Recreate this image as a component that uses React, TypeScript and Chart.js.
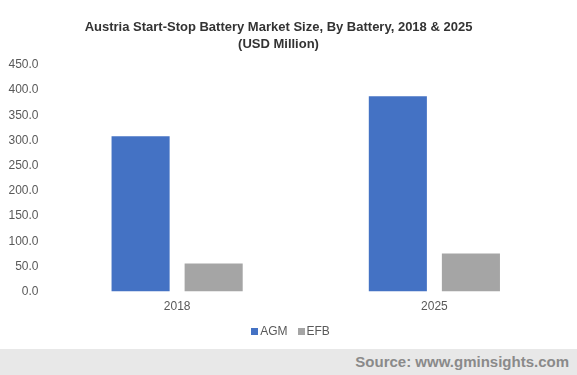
import React, { useEffect, useRef } from "react";
import { Chart, registerables } from "chart.js";

Chart.register(...registerables);

const categories = ["2018", "2025"];
const agmValues = [308.5, 388.0];
const efbValues = [56.0, 75.5];
const seriesNames = ["AGM", "EFB"];
const seriesColors = ["#4472c4", "#a5a5a5"];
const titleLines = ["Austria Start-Stop Battery Market Size, By Battery, 2018 & 2025", "(USD Million)"];
const sourceText = "Source: www.gminsights.com";

const FONT = "Arial, 'Liberation Sans', sans-serif";

export default function App() {
  const ref = useRef<HTMLCanvasElement | null>(null);

  useEffect(() => {
    document.body.style.margin = "0";
    const ctx = ref.current;
    if (!ctx) return;
    const chart = new Chart(ctx, {
      type: "bar",
      data: {
        labels: categories,
        datasets: [
          {
            label: seriesNames[0],
            data: agmValues,
            backgroundColor: seriesColors[0],
            categoryPercentage: 0.568,
            barPercentage: 0.795,
          },
          {
            label: seriesNames[1],
            data: efbValues,
            backgroundColor: seriesColors[1],
            categoryPercentage: 0.568,
            barPercentage: 0.795,
          },
        ],
      },
      options: {
        animation: false,
        responsive: false,
        maintainAspectRatio: false,
        layout: { padding: { top: 65, left: 7, right: 14, bottom: 27 } },
        plugins: {
          title: { display: false },
          tooltip: { enabled: false },
          legend: { display: false },
        },
        scales: {
          x: {
            grid: { display: false, drawTicks: false },
            border: { display: false },
            ticks: {
              color: "#595959",
              padding: 8,
              font: { family: FONT, size: 12 },
            },
          },
          y: {
            min: 0,
            max: 450,
            grid: { display: false, drawTicks: false },
            border: { display: false },
            afterFit: (scale: any) => {
              scale.width = 41.5;
            },
            ticks: {
              stepSize: 50,
              padding: 10,
              color: "#595959",
              font: { family: FONT, size: 12 },
              callback: (v: any) => Number(v).toFixed(1),
            },
          },
        },
      },
    });
    return () => chart.destroy();
  }, []);

  return (
    <div style={{ position: "absolute", left: 0, top: 0, width: 577, height: 375, background: "#fff", overflow: "hidden" }}>
      <canvas ref={ref} width={577} height={349} style={{ position: "absolute", left: 0, top: 0, width: 577, height: 349 }} />
      <div
        style={{
          position: "absolute",
          left: 0,
          top: 18,
          width: 557,
          textAlign: "center",
          fontFamily: FONT,
          fontWeight: "bold",
          fontSize: 13,
          lineHeight: "17px",
          color: "#333333",
        }}
      >
        <div>{titleLines[0]}</div>
        <div>{titleLines[1]}</div>
      </div>
      <div
        style={{
          position: "absolute",
          left: 0,
          top: 323,
          width: 581,
          display: "flex",
          justifyContent: "center",
          alignItems: "center",
          fontFamily: FONT,
          fontSize: 12,
          lineHeight: "16px",
          color: "#595959",
        }}
      >
        {seriesNames.map((n, i) => (
          <div key={n} style={{ display: "flex", alignItems: "center", marginLeft: i === 0 ? 0 : 10 }}>
            <span style={{ display: "inline-block", width: 7, height: 7, background: seriesColors[i], marginRight: 2 }} />
            <span>{n}</span>
          </div>
        ))}
      </div>
      <div
        style={{
          position: "absolute",
          left: 0,
          top: 349,
          width: 577,
          height: 26,
          background: "#e8e8e8",
        }}
      >
        <div
          style={{
            position: "absolute",
            right: 8,
            top: 4,
            fontFamily: FONT,
            fontWeight: "bold",
            fontSize: 15,
            lineHeight: "18px",
            color: "#8a8a8a",
          }}
        >
          {sourceText}
        </div>
      </div>
    </div>
  );
}
